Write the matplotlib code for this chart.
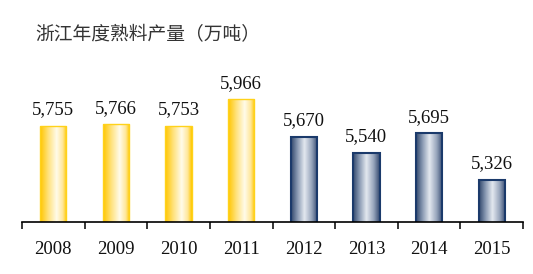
import matplotlib
matplotlib.use("Agg")
import matplotlib.pyplot as plt
import numpy as np
from matplotlib.colors import LinearSegmentedColormap

# data
years = ["2008", "2009", "2010", "2011", "2012", "2013", "2014", "2015"]
output = [5755, 5766, 5753, 5966, 5670, 5540, 5695, 5326]
labels = ["5,755", "5,766", "5,753", "5,966", "5,670", "5,540", "5,695", "5,326"]
is_new = [False, False, False, False, True, True, True, True]

title = "浙江年度熟料产量（万吨）"

yellow = LinearSegmentedColormap.from_list(
    "yel", [(0, "#FFC600"), (0.3, "#FFE27A"), (0.62, "#FFFBEA"), (0.85, "#FFE79A"), (1, "#FFC800")])
blue = LinearSegmentedColormap.from_list(
    "blu", [(0, "#33496E"), (0.22, "#8394AE"), (0.5, "#E4E9F0"), (0.78, "#95A3BA"), (1, "#33496E")])

fig = plt.figure(figsize=(5.33, 2.74), dpi=100)
ax = fig.add_axes([22 / 533, 52 / 274, 501 / 533, 0.51])

x = np.arange(len(years))
bars = ax.bar(x, output, width=0.42, bottom=0, zorder=2)

grad = np.linspace(0, 1, 64).reshape(1, -1)
for b, new in zip(bars, is_new):
    b.set_facecolor("none")
    if new:
        b.set_edgecolor("#1B3A6B")
        b.set_linewidth(1.5)
        cm = blue
    else:
        b.set_edgecolor("#FFD21A")
        b.set_linewidth(1.0)
        cm = yellow
    x0 = b.get_x()
    w = b.get_width()
    h = b.get_height()
    im = ax.imshow(grad, cmap=cm, aspect="auto", extent=(x0, x0 + w, 4990, h),
                   zorder=1, interpolation="bilinear")
    im.set_clip_path(b)

ax.set_xlim(-0.5, len(years) - 0.5)
ax.set_ylim(4990, 6102)

for xi, v, lab in zip(x, output, labels):
    ax.text(xi, v + 60, lab, ha="center", va="bottom", fontsize=13.5,
            family="Liberation Serif", color="#111111")

for s in ["top", "left", "right"]:
    ax.spines[s].set_visible(False)
ax.spines["bottom"].set_linewidth(1.2)
ax.spines["bottom"].set_color("black")
ax.set_yticks([])
ax.set_xticks(x)
ax.set_xticklabels(years, family="Liberation Serif", fontsize=13.5, color="#111111")
ax.set_xticks(np.arange(-0.5, len(years)), minor=True)
ax.tick_params(axis="x", which="major", length=0, pad=14)
ax.tick_params(axis="x", which="minor", length=5, width=1.1, direction="out", color="black")

fig.text(35 / 533, 1 - 35 / 274, title, family=["Noto Sans CJK SC", "DejaVu Sans"],
         fontsize=13.5, va="center", ha="left", color="#333333")

fig.savefig("out.png", dpi=100)
